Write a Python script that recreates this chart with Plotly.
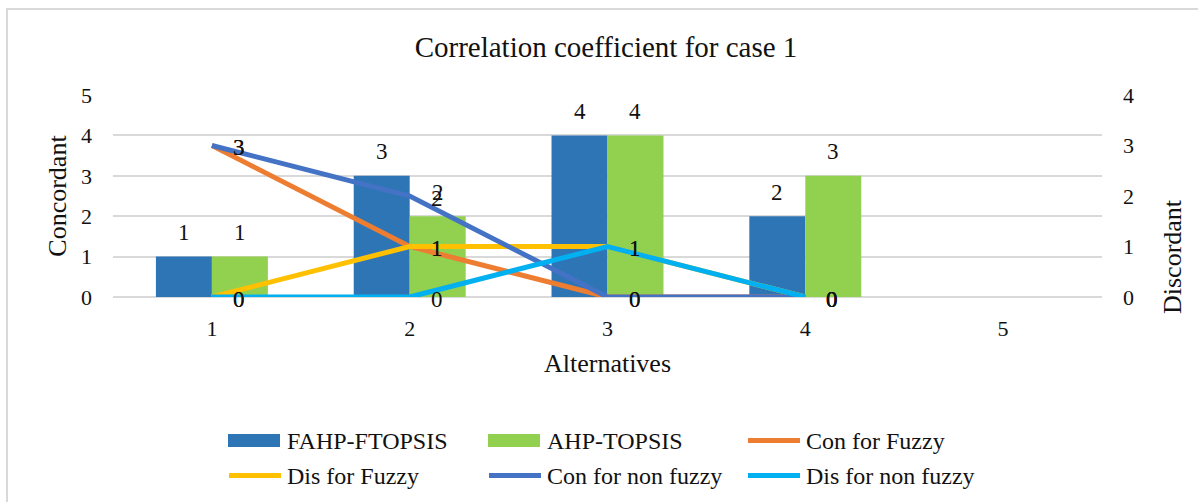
import plotly.graph_objects as go

# ---- data ----
alternatives = ["1", "2", "3", "4", "5"]
fahp_ftopsis = [1, 3, 4, 2, None]
ahp_topsis = [1, 2, 4, 3, None]
con_fuzzy = [3, 1, 0, 0]
dis_fuzzy = [0, 1, 1, 0]
con_non_fuzzy = [3, 2, 0, 0]
dis_non_fuzzy = [0, 0, 1, 0]
concordant_ticks = [0, 1, 2, 3, 4, 5]
discordant_ticks = [0, 1, 2, 3, 4]

FONT = "Liberation Serif, Times New Roman, serif"
TXT = "#111111"
GRID = "#D9D9D9"

bar_series = [
    ("FAHP-FTOPSIS", fahp_ftopsis, "#2E75B6"),
    ("AHP-TOPSIS", ahp_topsis, "#92D050"),
]
line_series = [
    ("Con for Fuzzy", con_fuzzy, "#ED7D31"),
    ("Dis for Fuzzy", dis_fuzzy, "#FFC000"),
    ("Con for non fuzzy", con_non_fuzzy, "#4472C4"),
    ("Dis for non fuzzy", dis_non_fuzzy, "#00B0F0"),
]

# ---- page geometry (px) ----
W, H = 1198, 502
L, R, T, B = 113, 96, 95, 205
PW, PH = W - L - R, H - T - B


def px_x(px):
    return (px - L) / PW


def px_y(py):
    return (H - B - py) / PH


fig = go.Figure()

BAR_GAP = 0.434
bar_w = (1 - BAR_GAP) / 2 * PW / len(alternatives)

annotations = []

for i, (name, vals, color) in enumerate(bar_series):
    fig.add_trace(go.Bar(
        x=alternatives, y=vals, name=name, marker=dict(color=color, line=dict(width=0)),
        showlegend=False, hoverinfo="x+y+name",
    ))
    shift = (i - 0.5) * bar_w
    # value labels above each bar (category axis positions are indices)
    for idx, v in enumerate(vals):
        if v is None:
            continue
        annotations.append(dict(
            x=idx, y=v, xref="x", yref="y", text=str(v), showarrow=False,
            xshift=shift, yshift=24, yanchor="middle", xanchor="center",
            font=dict(family=FONT, size=23, color=TXT),
        ))

for name, vals, color in line_series:
    cats = alternatives[:len(vals)]
    fig.add_trace(go.Scatter(
        x=cats, y=vals, name=name, yaxis="y2", mode="lines",
        line=dict(color=color, width=5), showlegend=False,
    ))
    # value labels to the right of each point
    for idx, v in enumerate(vals):
        annotations.append(dict(
            x=idx, y=v, xref="x", yref="y2", text=str(v), showarrow=False,
            xshift=27, yshift=-2, yanchor="middle", xanchor="center",
            font=dict(family=FONT, size=23, color=TXT),
        ))

# right-hand axis title
annotations.append(dict(
    x=px_x(1172), y=px_y(257), xref="paper", yref="paper", text="Discordant",
    textangle=-90, showarrow=False, xanchor="center", yanchor="middle",
    font=dict(family=FONT, size=26, color=TXT),
))

# ---- legend (two rows of three entries) ----
shapes = []
legend_items = [(n, c, "bar") for n, _, c in bar_series] + [(n, c, "line") for n, _, c in line_series]
col_x = [228, 488, 747]
row_y = [440.5, 475.5]
for k, (name, color, kind) in enumerate(legend_items):
    x0 = col_x[k % 3]
    yc = row_y[k // 3]
    if kind == "bar":
        shapes.append(dict(
            type="rect", xref="paper", yref="paper",
            x0=px_x(x0), x1=px_x(x0 + 52), y0=px_y(yc - 6.5), y1=px_y(yc + 6.5),
            fillcolor=color, line=dict(width=0),
        ))
    else:
        shapes.append(dict(
            type="line", xref="paper", yref="paper",
            x0=px_x(x0 + 1), x1=px_x(x0 + 53), y0=px_y(yc), y1=px_y(yc),
            line=dict(color=color, width=5),
        ))
    annotations.append(dict(
        x=px_x(x0 + 57), y=px_y(yc), xref="paper", yref="paper", text=name,
        showarrow=False, xanchor="left", yanchor="middle",
        font=dict(family=FONT, size=24, color=TXT),
    ))

# chart frame
shapes.append(dict(
    type="rect", xref="paper", yref="paper", layer="below",
    x0=px_x(7), x1=px_x(1230), y0=px_y(530), y1=px_y(9),
    line=dict(color=GRID, width=2), fillcolor="rgba(0,0,0,0)",
))

fig.update_layout(
    width=W, height=H,
    margin=dict(l=L, r=R, t=T, b=B, pad=0),
    paper_bgcolor="white", plot_bgcolor="white",
    font=dict(family=FONT, color=TXT),
    title=dict(
        text="Correlation coefficient for case 1", x=606 / W, xref="container",
        y=1 - 47 / H, yref="container", xanchor="center", yanchor="middle",
        font=dict(family=FONT, size=29, color=TXT),
    ),
    barmode="group", bargap=BAR_GAP, bargroupgap=0,
    xaxis=dict(
        type="category", categoryorder="array", categoryarray=alternatives,
        range=[-0.5, len(alternatives) - 0.5],
        showgrid=False, zeroline=False, showline=False, ticks="",
        tickfont=dict(family=FONT, size=22, color=TXT), ticklabelstandoff=16,
        title=dict(text="Alternatives", font=dict(family=FONT, size=26, color=TXT), standoff=13),
    ),
    yaxis=dict(
        range=[0, 5], tickvals=concordant_ticks, showgrid=True, gridcolor=GRID, gridwidth=1.5,
        zeroline=True, zerolinecolor=GRID, zerolinewidth=1.5, showline=False, ticks="",
        tickfont=dict(family=FONT, size=22, color=TXT), ticklabelstandoff=20,
        title=dict(text="Concordant", font=dict(family=FONT, size=26, color=TXT), standoff=6),
    ),
    yaxis2=dict(
        overlaying="y", side="right", range=[0, 4], tickvals=discordant_ticks,
        showgrid=False, zeroline=False, showline=False, ticks="",
        tickfont=dict(family=FONT, size=22, color=TXT), ticklabelstandoff=20,
    ),
    annotations=annotations,
    shapes=shapes,
    showlegend=False,
)

fig.write_html("out.html")
